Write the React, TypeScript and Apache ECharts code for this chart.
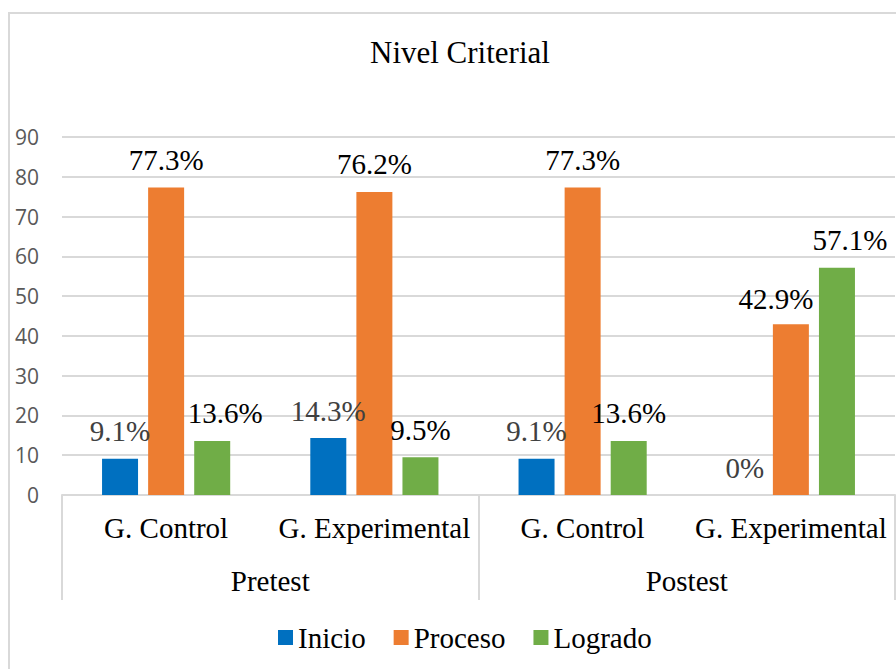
import React, { useEffect, useRef } from "react";
import * as echarts from "echarts";

const groups = ["G. Control", "G. Experimental", "G. Control", "G. Experimental"];
const phases = ["Pretest", "Postest"];
const seriesNames = ["Inicio", "Proceso", "Logrado"];
const inicio = [9.1, 14.3, 9.1, 0];
const proceso = [77.3, 76.2, 77.3, 42.9];
const logrado = [13.6, 9.5, 13.6, 57.1];
const yTicks = { min: 0, max: 90, interval: 10 };

const colors = ["#0070C0", "#ED7D31", "#70AD47"];
const labelColors = ["#404040", "#000000", "#000000"];
// label offsets per series per category (styling only)
const labelOffsets: number[][][] = [
  [[0, 0], [0, 0], [0, 0], [0, 0]],
  [[0, 0], [0, 0], [0, 0], [-15, 2]],
  [[13, 0], [0, 0], [0, 0], [13, 0]],
];

const SERIF = "Times New Roman, Liberation Serif, serif";

export default function App() {
  const ref = useRef<HTMLDivElement>(null);
  useEffect(() => {
    if (!ref.current) return;
    const chart = echarts.init(ref.current, null, { renderer: "svg" });
    const values = [inicio, proceso, logrado];
    const series = values.map((vals, si) => ({
      name: seriesNames[si],
      type: "bar",
      xAxisIndex: 0,
      barWidth: 36,
      barGap: "28%",
      itemStyle: { color: colors[si] },
      label: {
        show: true,
        position: "top",
        distance: 13,
        fontFamily: SERIF,
        fontSize: 29,
        color: labelColors[si],
        formatter: (p: any) => `${p.value}%`,
      },
      data: vals.map((v, ci) => ({
        value: v,
        label: { offset: labelOffsets[si][ci] },
      })),
    }));
    chart.setOption({
      animation: false,
      backgroundColor: "#ffffff",
      textStyle: { fontFamily: SERIF },
      title: {
        text: "Nivel Criterial",
        left: 370,
        top: 37,
        padding: 0,
        textStyle: { fontFamily: SERIF, fontSize: 31, fontWeight: "normal", color: "#000" },
      },
      legend: {
        data: seriesNames,
        left: 278,
        top: 623,
        padding: 0,
        icon: "rect",
        itemWidth: 15,
        itemHeight: 15,
        itemGap: 28,
        textStyle: { fontFamily: SERIF, fontSize: 29, color: "#000" },
      },
      grid: { left: 62, right: 1, top: 137, bottom: 174, containLabel: false },
      xAxis: [
        {
          type: "category",
          data: groups,
          position: "bottom",
          axisLine: { show: true, lineStyle: { color: "#d9d9d9", width: 2 } },
          axisTick: { show: false },
          axisLabel: { margin: 18, fontFamily: SERIF, fontSize: 29, color: "#000", interval: 0 },
        },
        {
          type: "category",
          data: phases,
          position: "bottom",
          axisLine: { show: false },
          axisTick: { show: true, length: 105, interval: 0, lineStyle: { color: "#d9d9d9", width: 2 } },
          axisLabel: { margin: 71, fontFamily: SERIF, fontSize: 29, color: "#000", interval: 0 },
        },
      ],
      yAxis: {
        type: "value",
        min: yTicks.min,
        max: yTicks.max,
        interval: yTicks.interval,
        axisLine: { show: false },
        axisTick: { show: false },
        splitLine: { lineStyle: { color: "#d9d9d9", width: 2 } },
        axisLabel: { margin: 23, fontFamily: "Open Sans", fontSize: 21, color: "#595959" },
      },
      graphic: [
        {
          type: "rect",
          shape: { x: 9, y: 13, width: 900, height: 670 },
          style: { fill: "none", stroke: "#d9d9d9", lineWidth: 2 },
          silent: true,
        },
      ],
      series,
    });
    return () => chart.dispose();
  }, []);
  return (
    <div
      ref={ref}
      style={{ position: "fixed", left: 0, top: 0, width: 896, height: 669 }}
    />
  );
}
